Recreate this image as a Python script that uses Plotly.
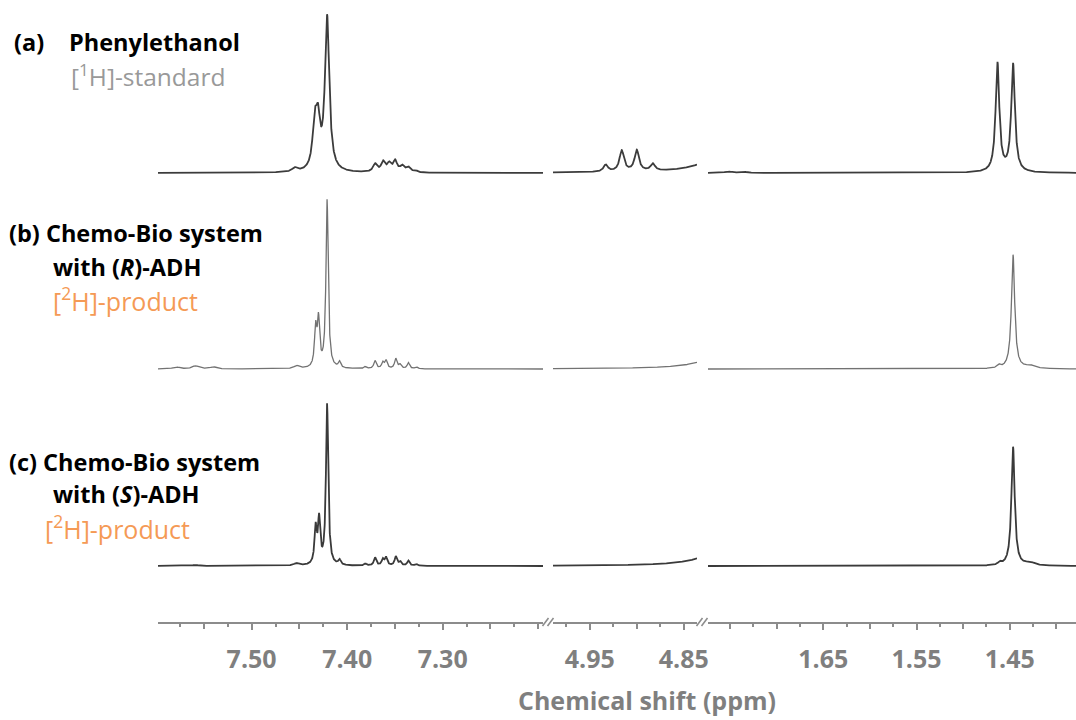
import numpy as np
import plotly.graph_objects as go

W, H = 1076, 720

# ---------------- data ----------------
# peak lists per spectrum: chemical shift (ppm), height (arb. units), half width (ppm)
ROW_A_PPM = [7.455, 7.434, 7.4305, 7.421, 7.3708, 7.3624, 7.3561, 7.3498, 7.3425, 7.3362, 7.3289,
             4.933, 4.916, 4.900, 4.883, 4.790,
             1.752, 1.736, 1.4632, 1.4465]
ROW_A_HEIGHT = [4, 43, 43, 154, 8, 10, 8, 11, 6, 5, 2,
                7, 21, 21, 7, 184,
                1.5, 1.5, 109, 108]
ROW_A_HWHM = [0.003, 0.0026, 0.0026, 0.0027, 0.0025, 0.0025, 0.0025, 0.0025, 0.0025, 0.0025, 0.0025,
              0.0028, 0.0028, 0.0028, 0.0028, 0.01,
              0.004, 0.004, 0.00236, 0.00236]

ROW_B_PPM = [7.579, 7.559, 7.540, 7.453, 7.433, 7.430, 7.421, 7.408,
             7.381, 7.3708, 7.3627, 7.3593, 7.3491, 7.3446, 7.3359, 7.3278,
             4.790,
             1.4618, 1.4465, 1.428]
ROW_B_HEIGHT = [2, 3, 2, 3, 38, 46, 168, 6,
                2, 8, 6, 8, 10, 4, 6, 2,
                148,
                3, 114, 3]
ROW_B_HWHM = [0.004, 0.004, 0.004, 0.003, 0.0014, 0.0014, 0.0014, 0.0015,
              0.0015, 0.0015, 0.0015, 0.0015, 0.0015, 0.0015, 0.0015, 0.0015,
              0.01,
              0.002, 0.0021, 0.006]

ROW_C_PPM = [7.559, 7.453, 7.433, 7.4294, 7.421, 7.408,
             7.381, 7.3708, 7.3627, 7.3593, 7.3491, 7.3446, 7.3359, 7.3278,
             4.790,
             1.4607, 1.4465, 1.428]
ROW_C_HEIGHT = [1, 2.4, 36, 44, 161, 5,
                2, 8, 6, 8, 9, 4, 5, 2,
                169,
                2.5, 119, 3]
ROW_C_HWHM = [0.004, 0.003, 0.0014, 0.0014, 0.0014, 0.0015,
              0.0015, 0.0015, 0.0015, 0.0015, 0.0015, 0.0015, 0.0015, 0.0015,
              0.01,
              0.002, 0.0021, 0.006]

# axis segments (ppm, high -> low)
SEG_RANGES = [(7.598, 7.195), (4.989, 4.836), (1.7736, 1.379)]
SEG_LABELVALS = [[7.50, 7.40, 7.30], [4.95, 4.85], [1.65, 1.55, 1.45]]
SEG_LABELTEXT = [["7.50", "7.40", "7.30"], ["4.95", "4.85"], ["1.65", "1.55", "1.45"]]
SEG_MAJOR_UNLABELED = [[7.55, 7.45, 7.35, 7.25, 7.20],
                       [4.90],
                       [1.75, 1.70, 1.60, 1.50, 1.40]]
SEG_MINOR = [[7.575, 7.525, 7.475, 7.425, 7.375, 7.325, 7.275, 7.225],
             [4.975, 4.925, 4.875],
             [1.725, 1.675, 1.625, 1.575, 1.525, 1.475, 1.425]]

# ---------------- styling / layout ----------------
SEG_PX = [(158, 543), (553, 697), (708, 1076)]
AXIS_Y_PX = 622
ROW_BASE_PX = [173, 369, 566]
ROW_COLORS = ["#3c3c3c", "#727272", "#3a3a3a"]
ROW_WIDTHS = [1.8, 1.3, 1.8]
AX = "#8c8c8c"
TICKC = "#7f7f7f"

rows = [(ROW_A_PPM, ROW_A_HEIGHT, ROW_A_HWHM),
        (ROW_B_PPM, ROW_B_HEIGHT, ROW_B_HWHM),
        (ROW_C_PPM, ROW_C_HEIGHT, ROW_C_HWHM)]


def spectrum(grid, ppm, h, w):
    g = grid[:, None]
    p = np.asarray(ppm)[None, :]
    hh = np.asarray(h, dtype=float)[None, :]
    ww = np.asarray(w, dtype=float)[None, :]
    return (hh * ww ** 2 / ((g - p) ** 2 + ww ** 2)).sum(axis=1)


fig = go.Figure()
axis_names = ["x", "x2", "x3"]
for r, (ppm, h, w) in enumerate(rows):
    offset = AXIS_Y_PX - ROW_BASE_PX[r]
    for s, (hi, lo) in enumerate(SEG_RANGES):
        grid = np.linspace(hi, lo, 4000)
        y = offset + spectrum(grid, ppm, h, w)
        fig.add_trace(go.Scatter(x=grid, y=y, mode="lines", xaxis=axis_names[s], yaxis="y",
                                 line=dict(color=ROW_COLORS[r], width=ROW_WIDTHS[r]),
                                 hoverinfo="skip", showlegend=False))

layout = dict(template="none", width=W, height=H, autosize=False,
              margin=dict(l=0, r=0, t=0, b=0, pad=0),
              paper_bgcolor="white", plot_bgcolor="white", showlegend=False,
              yaxis=dict(domain=[1 - AXIS_Y_PX / H, 1], range=[0, AXIS_Y_PX], visible=False,
                         fixedrange=True, automargin=False))
for s in range(3):
    key = "xaxis" if s == 0 else f"xaxis{s + 1}"
    x0, x1 = SEG_PX[s]
    layout[key] = dict(domain=[x0 / W, x1 / W], range=list(SEG_RANGES[s]), anchor="y",
                       automargin=False,
                       showline=True, linecolor=AX, linewidth=2,
                       ticks="outside", ticklen=6, tickwidth=1.5, tickcolor=AX,
                       tickmode="array", tickvals=SEG_LABELVALS[s], ticktext=SEG_LABELTEXT[s],
                       tickfont=dict(family="Open Sans", size=25, color=TICKC, weight="bold"),
                       ticklabelstandoff=8,
                       minor=dict(tickmode="array", tickvals=SEG_MINOR[s], ticks="outside",
                                  ticklen=3, tickwidth=1.5, tickcolor=AX, showgrid=False),
                       showgrid=False, zeroline=False, fixedrange=True)
    # overlay axis carrying the unlabeled long ticks
    okey = f"xaxis{s + 4}"
    layout[okey] = dict(overlaying=axis_names[s], domain=[x0 / W, x1 / W], range=list(SEG_RANGES[s]),
                        anchor="y", automargin=False, showline=False,
                        ticks="outside", ticklen=6, tickwidth=1.5, tickcolor=AX,
                        tickmode="array", tickvals=SEG_MAJOR_UNLABELED[s], showticklabels=False,
                        showgrid=False, zeroline=False, fixedrange=True)
fig.update_layout(**layout)
# invisible anchor traces so the overlay axes are drawn
for s, (hi, lo) in enumerate(SEG_RANGES):
    fig.add_trace(go.Scatter(x=[hi], y=[None], xaxis=f"x{s + 4}", yaxis="y", mode="lines",
                             hoverinfo="skip", showlegend=False))

# axis break marks
shapes = []
for gx in [(543, 548), (697, 702)]:
    for xs in gx:
        shapes.append(dict(type="line", xref="paper", yref="paper",
                           x0=(xs - 0.5) / W, x1=(xs + 5.5) / W,
                           y0=1 - (AXIS_Y_PX + 4) / H, y1=1 - (AXIS_Y_PX - 4) / H,
                           line=dict(color=AX, width=1.6)))
fig.update_layout(shapes=shapes)

BOLD = dict(family="Open Sans", size=23.5, color="black", weight="bold")
GRAYF = dict(family="Open Sans", size=24.5, color="#999999")
ORANGEF = dict(family="Open Sans", size=25, color="#F59A55")
labels = [
    ("(a)", 12, 42, BOLD),
    ("Phenylethanol", 67, 42, BOLD),
    ("[<sup>1</sup>H]-standard", 69, 76, GRAYF),
    ("(b) Chemo-Bio system", 7, 233, BOLD),
    ("with (<i>R</i>)-ADH", 51, 267, BOLD),
    ("[<sup>2</sup>H]-product", 51, 299, ORANGEF),
    ("(c) Chemo-Bio system", 7, 462, BOLD),
    ("with (<i>S</i>)-ADH", 51, 494, BOLD),
    ("[<sup>2</sup>H]-product", 43, 527, ORANGEF),
]
for txt, px, py, font in labels:
    fig.add_annotation(text=txt, x=px / W, y=1 - py / H, xref="paper", yref="paper",
                       xanchor="left", yanchor="middle", showarrow=False, font=font)

fig.add_annotation(text="Chemical shift (ppm)", x=647 / W, y=1 - 700 / H, xref="paper", yref="paper",
                   xanchor="center", yanchor="middle", showarrow=False,
                   font=dict(family="Open Sans", size=25, color=TICKC, weight="bold"))

fig.write_html("out.html", config={"responsive": False})
